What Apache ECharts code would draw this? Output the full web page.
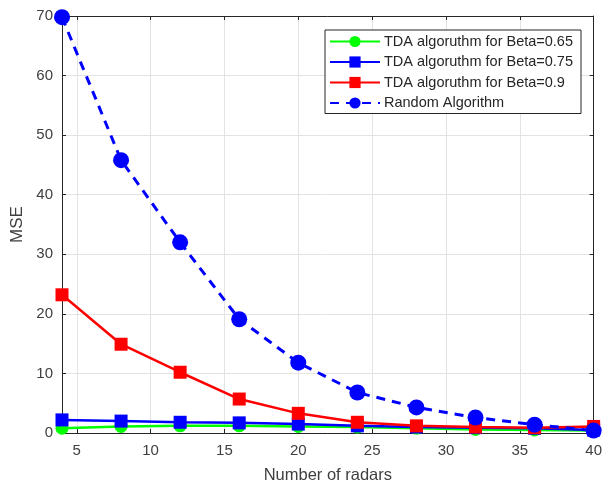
<!DOCTYPE html>
<html>
<head>
<meta charset="utf-8">
<script src="https://cdn.jsdelivr.net/npm/echarts@6/dist/echarts.min.js"></script>
<style>
html,body{margin:0;padding:0;background:#fff;}
#c{width:605px;height:492px;}
</style>
</head>
<body>
<div id="c"></div>
<script>
var radars = [4, 8, 12, 16, 20, 24, 28, 32, 36, 40];
var beta065 = [0.8, 1.1, 1.2, 1.2, 1.1, 1.0, 0.8, 0.6, 0.5, 0.4];
var beta075 = [2.2, 2.0, 1.8, 1.7, 1.5, 1.2, 1.0, 0.9, 0.8, 0.5];
var beta09 = [23.2, 14.9, 10.2, 5.7, 3.3, 1.8, 1.2, 1.0, 0.9, 1.1];
var randomAlg = [69.8, 45.8, 32.0, 19.1, 11.8, 6.8, 4.3, 2.6, 1.4, 0.4];
var xTicks = [5, 10, 15, 20, 25, 30, 35, 40];
var seriesNames = ['TDA algoruthm for Beta=0.65', 'TDA algoruthm for Beta=0.75', 'TDA algoruthm for Beta=0.9', 'Random Algorithm'];

function pairs(ys){ return radars.map(function(x,i){ return [x, ys[i]]; }); }

var chart = echarts.init(document.getElementById('c'), null, {renderer:'canvas'});
var axisColor = '#262626';
var labelColor = '#404040';
var gridColor = '#e3e3e3';
var font = 'Arial, "Liberation Sans", sans-serif';

chart.setOption({
  backgroundColor: '#ffffff',
  animation: false,
  grid: {left: 62, right: 7, top: 16, bottom: 59, containLabel: false},
  legend: {
    orient: 'vertical',
    left: 325, top: 30,
    padding: [4, 8, 3, 4],
    itemGap: 5.5,
    itemWidth: 50, itemHeight: 14,
    backgroundColor: '#ffffff',
    borderColor: '#262626', borderWidth: 1,
    textStyle: {fontFamily: font, fontSize: 14.5, color: '#262626', padding: [0,0,0,-1]},
    data: seriesNames
  },
  xAxis: [{
    type: 'value', min: 4, max: 40,
    name: 'Number of radars', nameLocation: 'middle', nameGap: 34,
    nameTextStyle: {fontFamily: font, fontSize: 16.5, color: labelColor},
    axisLine: {show: true, onZero: false, lineStyle: {color: axisColor, width: 1}},
    axisTick: {show: true, inside: true, length: 4, customValues: xTicks, lineStyle: {color: axisColor}},
    axisLabel: {customValues: xTicks, margin: 10, fontFamily: font, fontSize: 15, color: labelColor},
    splitLine: {show: true, customValues: xTicks, lineStyle: {color: gridColor, width: 1}}
  }, {
    type: 'value', min: 4, max: 40, position: 'top',
    axisLine: {show: true, onZero: false, lineStyle: {color: axisColor, width: 1}},
    axisTick: {show: true, inside: true, length: 4, customValues: xTicks, lineStyle: {color: axisColor}},
    axisLabel: {show: false},
    splitLine: {show: false}
  }],
  yAxis: [{
    type: 'value', min: 0, max: 70, interval: 10,
    name: 'MSE', nameLocation: 'middle', nameGap: 33,
    nameTextStyle: {fontFamily: font, fontSize: 17, color: labelColor},
    axisLine: {show: true, lineStyle: {color: axisColor, width: 1}},
    axisTick: {show: true, inside: true, length: 4, lineStyle: {color: axisColor}},
    axisLabel: {margin: 9, fontFamily: font, fontSize: 15, color: labelColor},
    splitLine: {show: true, lineStyle: {color: gridColor, width: 1}}
  }, {
    type: 'value', min: 0, max: 70, interval: 10, position: 'right',
    axisLine: {show: true, lineStyle: {color: axisColor, width: 1}},
    axisTick: {show: true, inside: true, length: 4, lineStyle: {color: axisColor}},
    axisLabel: {show: false},
    splitLine: {show: false}
  }],
  series: [{
    name: seriesNames[0], type: 'line', data: pairs(beta065),
    symbol: 'circle', symbolSize: 13,
    lineStyle: {color: '#00ff00', width: 2.5},
    itemStyle: {color: '#00ff00'}, z: 2
  }, {
    name: seriesNames[1], type: 'line', data: pairs(beta075),
    symbol: 'rect', symbolSize: 13,
    lineStyle: {color: '#0000ff', width: 2.5},
    itemStyle: {color: '#0000ff'}, z: 3
  }, {
    name: seriesNames[2], type: 'line', data: pairs(beta09),
    symbol: 'rect', symbolSize: 13,
    lineStyle: {color: '#ff0000', width: 2.5},
    itemStyle: {color: '#ff0000'}, z: 4
  }, {
    name: seriesNames[3], type: 'line', data: pairs(randomAlg),
    symbol: 'circle', symbolSize: 16,
    lineStyle: {color: '#0000ff', width: 3, type: [9, 7]},
    itemStyle: {color: '#0000ff'}, z: 5
  }]
});
</script>
</body>
</html>
